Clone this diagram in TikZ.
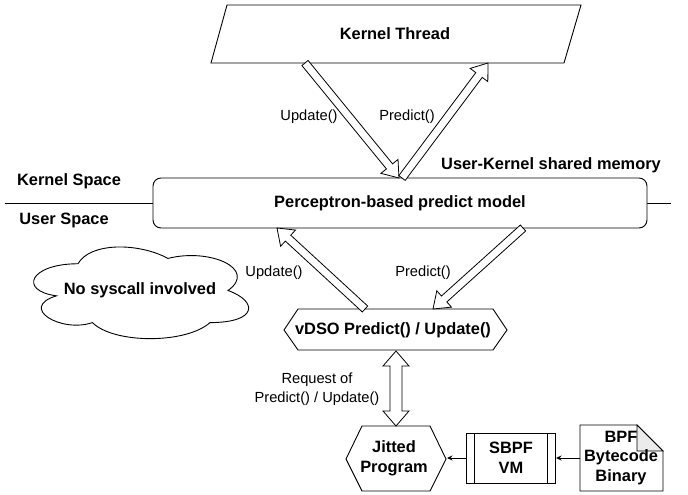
\documentclass[tikz,border=0pt]{standalone}
\usepackage{fontspec}
\setmainfont{Liberation Sans}
\usetikzlibrary{calc,arrows.meta}
\definecolor{foldgray}{HTML}{EBEBEB}
\newcommand{\flexar}[5]{% #1 tail, #2 tip, #3 shaft half width, #4 head half width, #5 head length
  \coordinate (fxc) at ($(#2)!#5!(#1)$);
  \path[flexstyle] ($(#1)!#3!90:(#2)$) -- ($(fxc)!#3!90:(#2)$) -- ($(fxc)!#4!90:(#2)$) -- (#2)
    -- ($(fxc)!#4!-90:(#2)$) -- ($(fxc)!#3!-90:(#2)$) -- ($(#1)!#3!-90:(#2)$) -- cycle;
}
\newcommand{\flexdbl}[5]{% #1 tip A, #2 tip B
  \coordinate (fxa) at ($(#1)!#5!(#2)$);
  \coordinate (fxb) at ($(#2)!#5!(#1)$);
  \path[flexstyle] (#1) -- ($(fxa)!#4!90:(#2)$) -- ($(fxa)!#3!90:(#2)$) -- ($(fxb)!#3!90:(#2)$)
    -- ($(fxb)!#4!90:(#2)$) -- (#2) -- ($(fxb)!#4!-90:(#2)$) -- ($(fxb)!#3!-90:(#2)$)
    -- ($(fxa)!#3!-90:(#2)$) -- ($(fxa)!#4!-90:(#2)$) -- cycle;
}
\begin{document}
\begin{tikzpicture}[x=1pt,y=-1pt,
  shp/.style={draw=black, line width=0.9pt, fill=white, line join=miter},
  flexstyle/.style={draw=black, line width=0.8pt, fill=white, line join=miter},
  bt/.style={font=\fontsize{16.4}{19.8}\selectfont\bfseries, align=center, inner sep=0pt},
  lb/.style={font=\fontsize{14.67}{19}\selectfont, align=center, inner sep=0pt},
  thinarrow/.style={draw=black, line width=0.9pt, -{Stealth[length=5.5pt,width=5pt]}}
]
\useasboundingbox (0,0) rectangle (688,495);

% separator line
\draw[line width=0.9pt] (5,203) -- (671,203);

% Kernel thread (parallelogram)
\draw[shp] (227,5) -- (581,5) -- (564,63) -- (211,63) -- cycle;
\node[bt] (kt) at (395,34) {Kernel Thread};

% shared memory box
\draw[shp, rounded corners=8pt] (153,178) rectangle (647,228);
\node[bt] (pm) at (400,203) {Perceptron-based predict model};
\node[bt] (ukm) at (551,165) {User-Kernel shared memory};
\node[bt] (ks) at (69,181) {Kernel Space};
\node[bt] (us) at (64,220) {User Space};

% cloud
\draw[shp] (78,263.75)
  .. controls (30,263.75) and (18,290.5) .. (56.4,295.85)
  .. controls (18,307.62) and (61.2,333.3) .. (92.4,322.6)
  .. controls (114,344) and (186,344) .. (210,322.6)
  .. controls (258,322.6) and (258,301.2) .. (228,290.5)
  .. controls (258,269.1) and (210,247.7) .. (168,258.4)
  .. controls (138,242.35) and (90,242.35) .. (78,263.75) -- cycle;
\node[bt] (cl) at (140,290) {No syscall involved};

% vDSO hexagon
\draw[shp] (284,330) -- (298,309) -- (493,309) -- (507,330) -- (493,350) -- (298,350) -- cycle;
\node[bt] (vd) at (393,330) {vDSO Predict() / Update()};

% Jitted program hexagon
\draw[shp] (346,459) -- (362,426) -- (430,426) -- (446,459) -- (430,491) -- (362,491) -- cycle;
\node[bt] (jp) at (394,458) {Jitted\\Program};

% SBPF VM process
\draw[shp] (466,433) rectangle (555,483);
\draw[line width=0.9pt] (474,433) -- (474,483) (547,433) -- (547,483);
\node[bt] (sb) at (511,458) {SBPF\\VM};

% BPF note
\draw[shp] (580,425) -- (637,425) -- (663,451) -- (663,491) -- (580,491) -- cycle;
\draw[shp, fill=foldgray] (637,425) -- (637,451) -- (663,451) -- cycle;
\node[bt] (bb) at (621,458) {BPF\\Bytecode\\Binary};

% connector end points
\coordinate (ktU) at (305,63);
\coordinate (pmU) at (399,178);
\coordinate (pmP) at (402,178);
\coordinate (ktP) at (488,63);
\coordinate (vdU) at (365,309);
\coordinate (pmLU) at (277,228);
\coordinate (pmLP) at (523,228);
\coordinate (vdP) at (433,309);
\coordinate (vdS) at (396,351);
\coordinate (jpN) at (396,426);
\coordinate (bbW) at (580,458);
\coordinate (sbE) at (556,458);
\coordinate (sbW) at (466,458);
\coordinate (jpE) at (447,458);

% flex arrows
\flexar{ktU}{pmU}{4pt}{11pt}{15pt}
\flexar{pmP}{ktP}{4pt}{11pt}{15pt}
\flexar{vdU}{pmLU}{4pt}{11pt}{15pt}
\flexar{pmLP}{vdP}{4pt}{11pt}{15pt}
\flexdbl{vdS}{jpN}{6pt}{13pt}{15pt}

% thin arrows
\draw[thinarrow] (bbW) -- (sbE);
\draw[thinarrow] (sbW) -- (jpE);

% labels
\node[lb] (l1) at (309,117) {Update()};
\node[lb] (l2) at (407,117) {Predict()};
\node[lb] (l3) at (274,273) {Update()};
\node[lb] (l4) at (423,273) {Predict()};
\node[lb] (l5) at (317,389) {Request of\\Predict() / Update()};
\end{tikzpicture}
\end{document}
